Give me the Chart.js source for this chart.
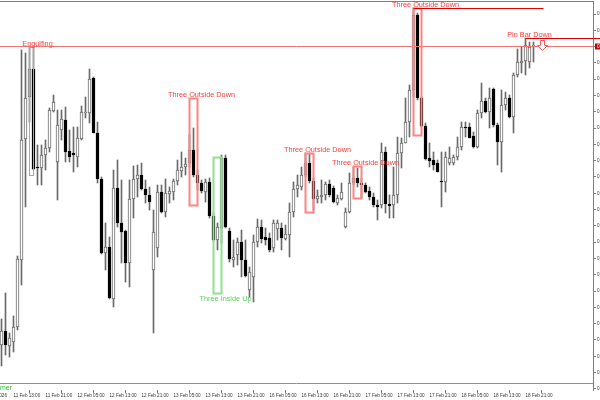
<!DOCTYPE html>
<html>
<head>
<meta charset="utf-8">
<script src="https://cdn.jsdelivr.net/npm/chart.js@4.4.1/dist/chart.umd.min.js"></script>
<style>
  html, body { margin: 0; padding: 0; background: #fff; }
</style>
</head>
<body>
<canvas id="chart" width="600" height="400"></canvas>
<script>
// H1 candles, 11 Feb 10:00 .. 18 Feb 23:00
const opens = [
  0.86565, 0.86607, 0.86562, 0.86574, 0.86619, 0.86820, 0.87183, 0.87309, 0.87393, 0.87099,
  0.87096, 0.87135, 0.87156, 0.87267, 0.87114, 0.87210, 0.87240, 0.87147, 0.87141, 0.87129,
  0.87183, 0.87261, 0.87261, 0.87366, 0.87201, 0.87063, 0.86841, 0.86859, 0.86703, 0.87036,
  0.86931, 0.86907, 0.86811, 0.87003, 0.87063, 0.87075, 0.87033, 0.87015, 0.86790, 0.86856,
  0.87024, 0.86964, 0.87018, 0.87024, 0.87057, 0.87087, 0.87099, 0.87111, 0.87150, 0.87075,
  0.87051, 0.87024, 0.87054, 0.86952, 0.86880, 0.86916, 0.87126, 0.86907, 0.86820, 0.86835,
  0.86874, 0.86820, 0.86730, 0.86769, 0.86874, 0.86919, 0.86889, 0.86886, 0.86856, 0.86913,
  0.86916, 0.86883, 0.86895, 0.86964, 0.87033, 0.87039, 0.87075, 0.87111, 0.87057, 0.87003,
  0.87009, 0.87015, 0.87048, 0.87036, 0.86991, 0.87003, 0.86919, 0.86964, 0.87051, 0.87066,
  0.87051, 0.87045, 0.87027, 0.87009, 0.86985, 0.86985, 0.87144, 0.86988, 0.86985, 0.87015,
  0.87141, 0.87171, 0.87234, 0.87330, 0.87555, 0.87306, 0.87222, 0.87126, 0.87120, 0.87111,
  0.87057, 0.87054, 0.87111, 0.87111, 0.87129, 0.87159, 0.87219, 0.87219, 0.87192, 0.87159,
  0.87261, 0.87297, 0.87264, 0.87333, 0.87225, 0.87174, 0.87285, 0.87306, 0.87249, 0.87375,
  0.87411, 0.87417, 0.87414, 0.87462
];
const highs = [
  0.86643, 0.86721, 0.86601, 0.86652, 0.86832, 0.87450, 0.87441, 0.87462, 0.87459, 0.87165,
  0.87165, 0.87180, 0.87276, 0.87315, 0.87270, 0.87270, 0.87279, 0.87210, 0.87219, 0.87219,
  0.87282, 0.87309, 0.87393, 0.87369, 0.87234, 0.87069, 0.86931, 0.86889, 0.87090, 0.87120,
  0.87060, 0.86910, 0.87060, 0.87102, 0.87105, 0.87111, 0.87060, 0.87039, 0.86970, 0.87045,
  0.87045, 0.87063, 0.87039, 0.87063, 0.87120, 0.87144, 0.87126, 0.87195, 0.87216, 0.87090,
  0.87060, 0.87063, 0.87066, 0.86961, 0.86931, 0.87135, 0.87135, 0.86916, 0.86880, 0.86886,
  0.86910, 0.86880, 0.86799, 0.86895, 0.86943, 0.86940, 0.86916, 0.86901, 0.86940, 0.86940,
  0.86931, 0.86925, 0.86991, 0.87054, 0.87075, 0.87099, 0.87141, 0.87141, 0.87066, 0.87030,
  0.87060, 0.87054, 0.87060, 0.87042, 0.87015, 0.87051, 0.86976, 0.87081, 0.87099, 0.87096,
  0.87066, 0.87051, 0.87039, 0.87021, 0.87000, 0.87171, 0.87159, 0.87015, 0.87099, 0.87189,
  0.87186, 0.87306, 0.87345, 0.87576, 0.87561, 0.87309, 0.87231, 0.87171, 0.87144, 0.87120,
  0.87144, 0.87144, 0.87159, 0.87135, 0.87189, 0.87234, 0.87234, 0.87231, 0.87204, 0.87270,
  0.87351, 0.87306, 0.87336, 0.87336, 0.87231, 0.87330, 0.87324, 0.87315, 0.87381, 0.87453,
  0.87459, 0.87486, 0.87474, 0.87474
];
const lows = [
  0.86502, 0.86535, 0.86529, 0.86544, 0.86610, 0.86745, 0.86979, 0.87234, 0.87090, 0.87045,
  0.87045, 0.87090, 0.87144, 0.87264, 0.87000, 0.87180, 0.87114, 0.87114, 0.87084, 0.87099,
  0.87180, 0.87246, 0.87231, 0.87201, 0.87051, 0.86838, 0.86790, 0.86703, 0.86679, 0.86919,
  0.86811, 0.86754, 0.86739, 0.86946, 0.87009, 0.87030, 0.86991, 0.86970, 0.86601, 0.86829,
  0.86961, 0.86949, 0.86991, 0.87000, 0.87045, 0.87069, 0.87075, 0.87099, 0.87069, 0.87030,
  0.87021, 0.86994, 0.86946, 0.86877, 0.86850, 0.86871, 0.86916, 0.86814, 0.86799, 0.86805,
  0.86769, 0.86769, 0.86709, 0.86694, 0.86859, 0.86871, 0.86865, 0.86844, 0.86844, 0.86880,
  0.86850, 0.86880, 0.86829, 0.86949, 0.87009, 0.87030, 0.87069, 0.87051, 0.86970, 0.86991,
  0.86991, 0.87000, 0.87009, 0.86991, 0.86985, 0.87000, 0.86916, 0.86961, 0.87045, 0.87039,
  0.87006, 0.87021, 0.87000, 0.86979, 0.86940, 0.86976, 0.86961, 0.86946, 0.86946, 0.86991,
  0.87096, 0.87171, 0.87189, 0.87309, 0.87300, 0.87219, 0.87120, 0.87099, 0.87090, 0.87084,
  0.86979, 0.87024, 0.87105, 0.87105, 0.87120, 0.87150, 0.87189, 0.87186, 0.87156, 0.87156,
  0.87246, 0.87261, 0.87216, 0.87219, 0.87105, 0.87084, 0.87270, 0.87246, 0.87201, 0.87369,
  0.87381, 0.87375, 0.87396, 0.87414
];
const closes = [
  0.86607, 0.86565, 0.86586, 0.86619, 0.86823, 0.87180, 0.87306, 0.87393, 0.87093, 0.87096,
  0.87135, 0.87156, 0.87270, 0.87294, 0.87225, 0.87243, 0.87144, 0.87129, 0.87135, 0.87186,
  0.87264, 0.87264, 0.87363, 0.87201, 0.87063, 0.86841, 0.86859, 0.86706, 0.87036, 0.86931,
  0.86904, 0.86811, 0.87003, 0.87063, 0.87075, 0.87033, 0.87015, 0.86994, 0.86904, 0.87024,
  0.86964, 0.87021, 0.87027, 0.87057, 0.87090, 0.87099, 0.87108, 0.87150, 0.87075, 0.87051,
  0.87027, 0.87054, 0.86952, 0.86880, 0.86919, 0.87126, 0.86919, 0.86823, 0.86829, 0.86874,
  0.86820, 0.86772, 0.86784, 0.86874, 0.86919, 0.86883, 0.86880, 0.86850, 0.86931, 0.86931,
  0.86886, 0.86898, 0.86964, 0.87033, 0.87045, 0.87075, 0.87111, 0.87057, 0.87003, 0.87012,
  0.87015, 0.87048, 0.87015, 0.86994, 0.87006, 0.87024, 0.86964, 0.87051, 0.87066, 0.87051,
  0.87045, 0.87024, 0.87009, 0.86985, 0.86979, 0.87144, 0.86988, 0.86982, 0.87015, 0.87141,
  0.87171, 0.87234, 0.87330, 0.87555, 0.87306, 0.87222, 0.87123, 0.87117, 0.87105, 0.87084,
  0.87054, 0.87129, 0.87126, 0.87129, 0.87159, 0.87219, 0.87216, 0.87186, 0.87159, 0.87261,
  0.87297, 0.87264, 0.87306, 0.87225, 0.87174, 0.87285, 0.87306, 0.87249, 0.87375, 0.87414,
  0.87417, 0.87465, 0.87459, 0.87462
];

// time axis labels and the bar index they sit on
const tickIdx = [-5, 3, 11, 19, 27, 35, 43, 51, 59, 67, 75, 83, 91, 99, 107, 115, 123, 131];
const tickLabels = [
  "11 Feb 2026", "11 Feb 13:00", "11 Feb 21:00", "12 Feb 05:00", "12 Feb 13:00", "12 Feb 21:00",
  "13 Feb 05:00", "13 Feb 13:00", "13 Feb 21:00", "16 Feb 05:00", "16 Feb 13:00", "16 Feb 21:00",
  "17 Feb 05:00", "17 Feb 13:00", "17 Feb 21:00", "18 Feb 05:00", "18 Feb 13:00", "18 Feb 21:00"
];

// price scale
const priceMin = 0.86430;
const priceMax = 0.87594;
const priceTickTop = 0.87558;
const priceTickStep = 0.000489;

// candle pattern boxes
const patNames = ["Engulfing", "Three Outside Down", "Three Inside Up", "Three Outside Down", "Three Outside Down", "Three Outside Down"];
const patFrom = [7, 47, 53, 76, 88, 103];
const patTo = [8, 49, 55, 78, 90, 105];
const patTop = [0.87459, 0.87307, 0.87129, 0.87142, 0.87102, 0.87576];
const patBottom = [0.87075, 0.86985, 0.86721, 0.86965, 0.87006, 0.87195];
const patBull = [false, false, true, false, false, false];

// resistance lines
const levelPrice = [0.87576, 0.87486];
const levelFrom = [103, 131];
const levelTo = [135.5, 150];

// pin bar signal
const pinName = "Pin Bar Down";
const pinIdx = 131;
const pinArrowIdx = 135;
const pinArrowPrice = 0.87480;

// timer indicator line
const timerLevel = 0.86451;

const idx = opens.map((_, i) => i);
const isBull = i => closes[i] >= opens[i];

const overlay = {
  id: 'overlay',
  afterDatasetsDraw(chart) {
    const { ctx, chartArea: a, scales: { x, y } } = chart;
    const px = v => x.getPixelForValue(v);
    const py = v => Math.round(y.getPixelForValue(v)) + 0.5;
    const hline = (x1, x2, yy) => { ctx.beginPath(); ctx.moveTo(x1, yy); ctx.lineTo(x2, yy); ctx.stroke(); };
    ctx.save();
    ctx.lineWidth = 1;

    // top frame
    ctx.strokeStyle = '#808080';
    hline(0, a.right + 1, 1.5);

    // timer line + label
    ctx.strokeStyle = '#3cc83c';
    hline(0, a.right, py(timerLevel));
    ctx.fillStyle = '#3cbf3c';
    ctx.font = '7px "Liberation Sans"';
    ctx.textAlign = 'right';
    ctx.textBaseline = 'alphabetic';
    ctx.fillText('Timer', 12, 389.5);

    // bid line
    const bid = closes[closes.length - 1];
    ctx.strokeStyle = '#ef7575';
    hline(0, a.right, py(bid));

    // pattern boxes
    ctx.font = '7.3px "Liberation Sans"';
    ctx.textAlign = 'center';
    patNames.forEach((name, k) => {
      const x1 = px(patFrom[k]), x2 = px(patTo[k]);
      const y1 = py(patTop[k]), y2 = py(patBottom[k]);
      const bull = patBull[k];
      ctx.lineWidth = patTo[k] - patFrom[k] > 1 ? 2 : 1;
      ctx.strokeStyle = bull ? '#8ee28e' : '#ff8282';
      ctx.strokeRect(x1, y1, x2 - x1, y2 - y1);
      ctx.fillStyle = bull ? '#5ccf5c' : '#ff3c3c';
      if (bull) {
        ctx.textBaseline = 'top';
        ctx.fillText(name, x2 + 4, y2 + 2);
      } else {
        ctx.textBaseline = 'alphabetic';
        ctx.fillText(name, x2 + 4, y1 - 1.5);
      }
    });

    // resistance lines
    ctx.lineWidth = 1;
    ctx.strokeStyle = '#e00000';
    levelPrice.forEach((p, k) => hline(px(levelFrom[k]), px(levelTo[k]), py(p)));

    // pin bar label + arrow
    ctx.fillStyle = '#ff3c3c';
    ctx.textBaseline = 'alphabetic';
    ctx.fillText(pinName, px(pinIdx) + 4, py(levelPrice[1]) - 2);
    const ax = Math.round(px(pinArrowIdx)) + 0.5, ay = py(pinArrowPrice);
    ctx.strokeStyle = '#ff5a5a';
    ctx.fillStyle = '#ffffff';
    ctx.beginPath();
    ctx.moveTo(ax - 2, ay);
    ctx.lineTo(ax + 2, ay);
    ctx.lineTo(ax + 2, ay + 5);
    ctx.lineTo(ax + 5, ay + 5);
    ctx.lineTo(ax, ay + 10);
    ctx.lineTo(ax - 5, ay + 5);
    ctx.lineTo(ax - 2, ay + 5);
    ctx.closePath();
    ctx.fill();
    ctx.stroke();

    // bid label on the price axis
    const yb = py(bid);
    ctx.fillStyle = '#c80000';
    ctx.fillRect(a.right + 2, yb - 3, 10, 6);
    ctx.fillStyle = '#ffffff';
    ctx.font = '4.6px "Liberation Sans"';
    ctx.textAlign = 'left';
    ctx.textBaseline = 'middle';
    ctx.fillText(bid.toFixed(5), a.right + 4, yb);
    ctx.restore();
  }
};

new Chart(document.getElementById('chart'), {
  type: 'bar',
  data: {
    datasets: [
      {
        label: 'body',
        data: idx.map(i => ({ x: i, y: [opens[i], closes[i]] })),
        barThickness: 3,
        grouped: false,
        borderSkipped: false,
        borderWidth: 1,
        minBarLength: 1,
        backgroundColor: c => isBull(c.dataIndex) ? '#ffffff' : '#000000',
        borderColor: c => isBull(c.dataIndex) ? '#6a6a6a' : '#000000',
        order: 0
      },
      {
        label: 'wick',
        data: idx.map(i => ({ x: i, y: [lows[i], highs[i]] })),
        barThickness: 1,
        grouped: false,
        borderWidth: 0,
        backgroundColor: '#6a6a6a',
        order: 1
      }
    ]
  },
  options: {
    responsive: false,
    animation: false,
    devicePixelRatio: 1,
    events: [],
    layout: { padding: { top: 2, left: 0, right: 0, bottom: 0 } },
    plugins: { legend: { display: false }, tooltip: { enabled: false } },
    scales: {
      x: {
        type: 'linear',
        min: -0.375,
        max: 147.875,
        offset: false,
        grid: { drawOnChartArea: false, drawTicks: true, tickLength: 3, color: '#808080' },
        border: { display: false },
        afterBuildTicks: s => { s.ticks = tickIdx.map(v => ({ value: v })); },
        afterFit: s => { s.height = 10; s.paddingLeft = 0; s.paddingRight = 0; },
        ticks: {
          autoSkip: false,
          maxRotation: 0,
          align: 'start',
          padding: 0,
          color: '#383838',
          font: { family: 'Liberation Sans', size: 4.6 },
          callback: (v, i) => tickLabels[i]
        }
      },
      y: {
        position: 'right',
        min: priceMin,
        max: priceMax,
        grid: { drawOnChartArea: false, drawTicks: true, tickLength: 3, color: '#808080' },
        border: { display: true, color: '#808080' },
        afterBuildTicks: s => {
          const t = [];
          for (let v = priceTickTop; v > priceMin; v -= priceTickStep) t.push({ value: v });
          s.ticks = t;
        },
        afterFit: s => { s.width = 7; s.paddingTop = 0; s.paddingBottom = 0; },
        ticks: {
          padding: 1,
          color: '#383838',
          font: { family: 'Liberation Sans', size: 4.6 },
          callback: v => v.toFixed(5)
        }
      }
    }
  },
  plugins: [overlay]
});
</script>
</body>
</html>
